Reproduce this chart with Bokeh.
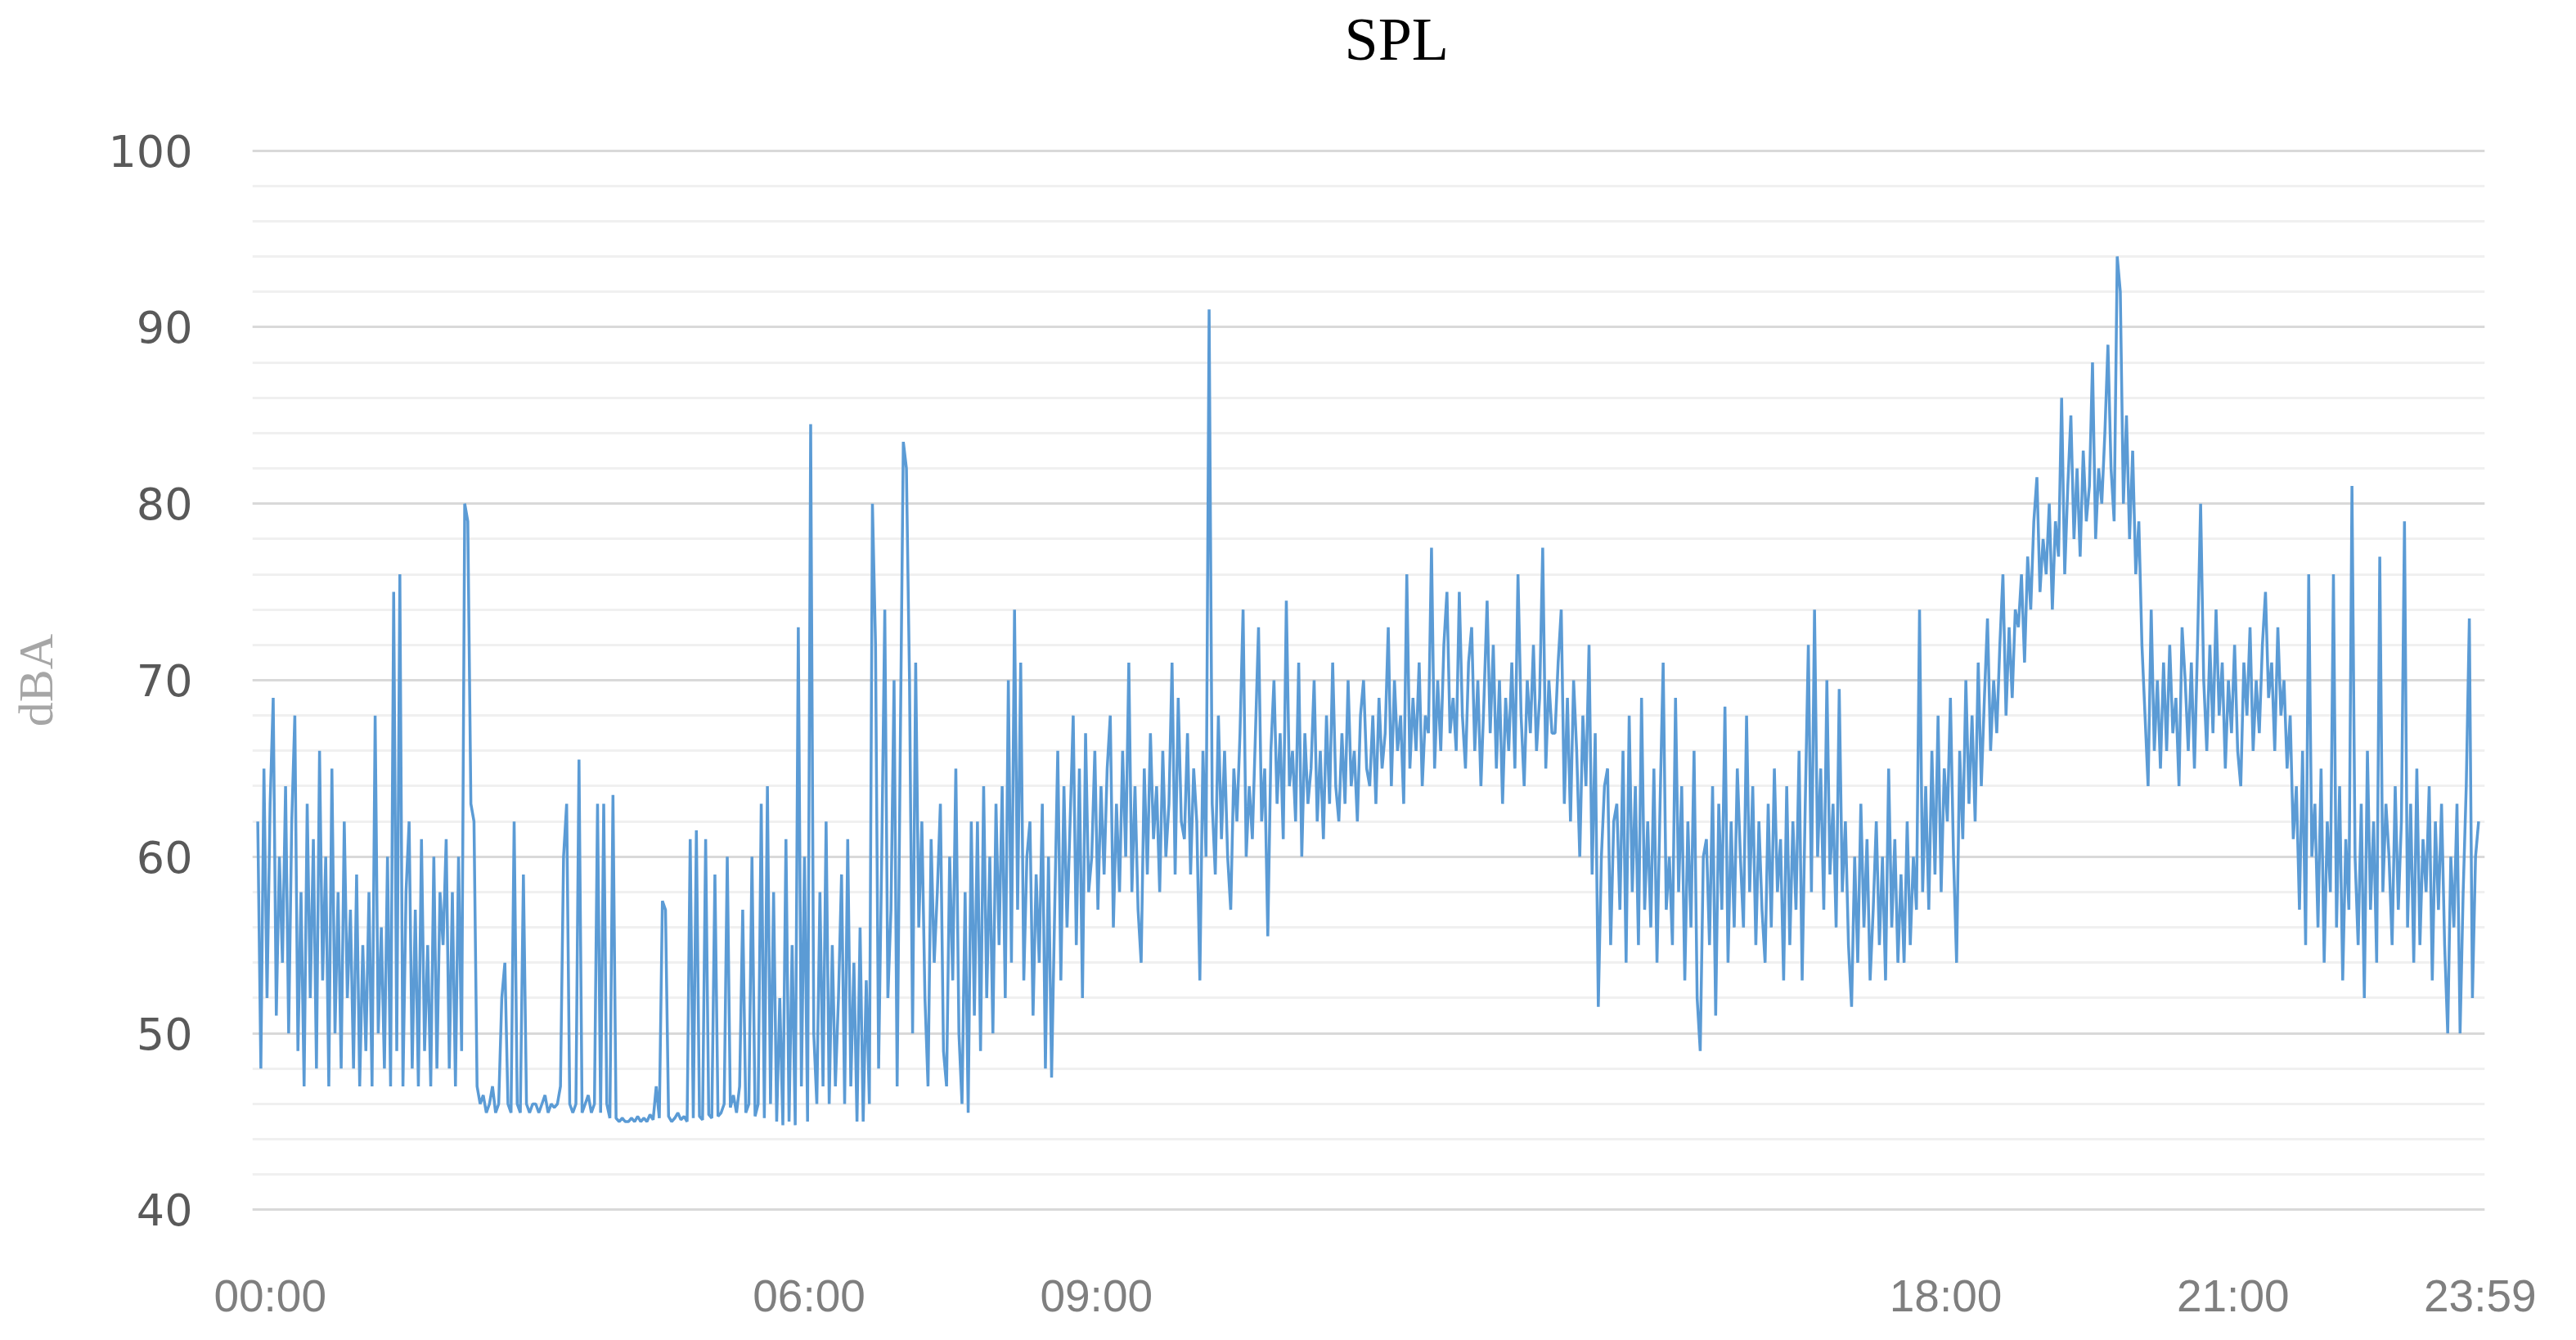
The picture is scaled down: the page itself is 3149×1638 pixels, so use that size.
from bokeh.plotting import figure
from bokeh.models import Range1d, FixedTicker, SingleIntervalTicker, Title
from bokeh.embed import file_html
from bokeh.resources import INLINE

# SPL readings (dBA), one value every 2 minutes, 30 values per hour
h00 = [62, 48, 65, 52, 63, 69, 51, 60, 54, 64, 50, 62, 68, 49, 58, 47, 63, 52, 61, 48, 66, 53, 60, 47, 65, 50, 58, 48, 62, 52]
h01 = [57, 48, 59, 47, 55, 49, 58, 47, 68, 50, 56, 48, 60, 47, 75, 49, 76, 47, 58, 62, 48, 57, 47, 61, 49, 55, 47, 60, 48, 58]
h02 = [55, 61, 48, 58, 47, 60, 49, 80, 79, 63, 62, 47, 46, 46.5, 45.5, 46, 47, 45.5, 46, 52, 54, 46, 45.5, 62, 46, 45.5, 59, 46, 45.5, 46]
h03 = [46, 45.5, 46, 46.5, 45.5, 46, 45.8, 46, 47, 60, 63, 46, 45.5, 46, 65.5, 45.5, 46, 46.5, 45.5, 46, 63, 45.5, 63, 46, 45.2, 63.5, 45.2, 45, 45.2, 45]
h04 = [45, 45.2, 45, 45.3, 45, 45.2, 45, 45.4, 45.1, 47, 45.2, 57.5, 57, 45.3, 45, 45.2, 45.5, 45.1, 45.3, 45, 61, 45.2, 61.5, 45.3, 45.1, 61, 45.4, 45.2, 59, 45.3]
h05 = [45.5, 46, 60, 45.8, 46.5, 45.5, 47, 57, 45.5, 46, 60, 45.3, 46, 63, 45.2, 64, 46, 58, 45, 52, 44.8, 61, 45, 55, 44.8, 73, 47, 60, 45, 84.5]
h06 = [50, 46, 58, 47, 62, 46, 55, 47, 52, 59, 46, 61, 47, 54, 45, 56, 45, 53, 46, 80, 72, 48, 60, 74, 52, 57, 70, 47, 66, 83.5]
h07 = [82, 70, 50, 71, 56, 62, 52, 47, 61, 54, 58, 63, 49, 47, 60, 53, 65, 50, 46, 58, 45.5, 62, 51, 62, 49, 64, 52, 60, 50, 63]
h08 = [55, 64, 52, 70, 54, 74, 57, 71, 53, 60, 62, 51, 59, 54, 63, 48, 60, 47.5, 57, 66, 53, 64, 56, 62, 68, 55, 65, 52, 67, 58]
h09 = [60, 66, 57, 64, 59, 65, 68, 56, 63, 58, 66, 60, 71, 58, 64, 57, 54, 65, 59, 67, 61, 64, 58, 66, 60, 63, 71, 59, 69, 62]
h10 = [61, 67, 59, 65, 62, 53, 66, 60, 91, 63, 59, 68, 61, 66, 60, 57, 65, 62, 67, 74, 60, 64, 61, 67, 73, 62, 65, 55.5, 66, 70]
h11 = [63, 67, 61, 74.5, 64, 66, 62, 71, 60, 67, 63, 65, 70, 62, 66, 61, 68, 63, 71, 64, 62, 67, 63, 70, 64, 66, 62, 68, 70, 65]
h12 = [64, 68, 63, 69, 65, 67, 73, 64, 70, 66, 68, 63, 76, 65, 69, 66, 71, 64, 68, 67, 77.5, 65, 70, 66, 72, 75, 67, 69, 66, 75]
h13 = [68, 65, 71, 73, 66, 70, 64, 69, 74.5, 67, 72, 65, 70, 63, 69, 66, 71, 65, 76, 68, 64, 70, 67, 72, 66, 69, 77.5, 65, 70, 67]
h14 = [67, 71, 74, 63, 69, 62, 70, 66, 60, 68, 64, 72, 59, 67, 51.5, 60, 64, 65, 55, 62, 63, 57, 66, 54, 68, 58, 64, 55, 69, 57]
h15 = [62, 56, 65, 54, 63, 71, 57, 60, 55, 69, 58, 64, 53, 62, 56, 66, 52, 49, 60, 61, 55, 64, 51, 63, 57, 68.5, 54, 62, 56, 65]
h16 = [60, 56, 68, 58, 64, 55, 62, 57, 54, 63, 56, 65, 58, 61, 53, 64, 55, 62, 57, 66, 53, 63, 72, 58, 74, 60, 65, 57, 70, 59]
h17 = [63, 56, 69.5, 58, 62, 55, 51.5, 60, 54, 63, 56, 61, 53, 57, 62, 55, 60, 53, 65, 56, 61, 54, 59, 54, 62, 55, 60, 57, 74, 58]
h18 = [64, 57, 66, 59, 68, 58, 65, 62, 69, 60, 54, 66, 61, 70, 63, 68, 62, 71, 64, 69, 73.5, 66, 70, 67, 72, 76, 68, 73, 69, 74]
h19 = [73, 76, 71, 77, 74, 79, 81.5, 75, 78, 76, 80, 74, 79, 77, 86, 76, 81, 85, 78, 82, 77, 83, 79, 81, 88, 78, 82, 80, 84, 89]
h20 = [82, 79, 94, 92, 80, 85, 78, 83, 76, 79, 72, 68, 64, 74, 66, 70, 65, 71, 66, 72, 67, 69, 64, 73, 70, 66, 71, 65, 72, 80]
h21 = [70, 66, 72, 67, 74, 68, 71, 65, 70, 67, 72, 66, 64, 71, 68, 73, 66, 70, 67, 72, 75, 69, 71, 66, 73, 68, 70, 65, 68, 61]
h22 = [64, 57, 66, 55, 76, 60, 63, 56, 65, 54, 62, 58, 76, 56, 64, 53, 61, 57, 81, 60, 55, 63, 52, 66, 57, 62, 54, 77, 58, 63]
h23 = [60, 55, 64, 57, 62, 79, 56, 63, 54, 65, 55, 61, 58, 64, 53, 62, 57, 63, 55, 50, 60, 56, 63, 50, 58, 64, 73.5, 52, 60, 62]

hours = [h00, h01, h02, h03, h04, h05, h06, h07, h08, h09, h10, h11,
         h12, h13, h14, h15, h16, h17, h18, h19, h20, h21, h22, h23]
spl = [v for h in hours for v in h]
step_minutes = 2
minutes = [i * step_minutes for i in range(len(spl))]

# category labels shown on the time axis, anchored where the original draws them
tick_labels = ["00:00", "06:00", "09:00", "18:00", "21:00", "23:59"]
tick_anchor_minutes = [8, 357, 543, 1093, 1279, 1439]

chart_title = "SPL"

p = figure(frame_width=2729, frame_height=1298,
           min_border_left=308, min_border_right=90,
           min_border_top=182, min_border_bottom=138,
           x_range=Range1d(-3.5, 1442), y_range=Range1d(39.93, 100.07),
           output_backend="svg", toolbar_location=None,
           background_fill_color="white", border_fill_color="white")
p.outline_line_color = None

p.line(minutes, spl, line_color="#5b9bd5", line_width=3.5)

# title (outermost "above" panel), with an empty spacer panel between it and the frame
p.title.text = chart_title
p.title.align = "left"
p.title.vertical_align = "top"
p.title.offset = 1335
p.title.text_font = "Liberation Serif"
p.title.text_font_size = "74px"
p.title.text_font_style = "normal"
p.title.text_color = "#000000"
p.title.standoff = 0
p.add_layout(Title(text=" ", text_font_size="10px", standoff=79), "above")

# y axis
p.yaxis.ticker = SingleIntervalTicker(interval=10, num_minor_ticks=5)
p.yaxis.axis_line_color = None
p.yaxis.major_tick_line_color = None
p.yaxis.minor_tick_line_color = None
p.yaxis.major_label_text_font = "DejaVu Sans"
p.yaxis.major_label_text_font_size = "54px"
p.yaxis.major_label_text_color = "#595959"
p.yaxis.major_label_standoff = 67
p.yaxis.axis_label = "dBA"
p.yaxis.axis_label_text_font = "Liberation Serif"
p.yaxis.axis_label_text_font_size = "60px"
p.yaxis.axis_label_text_font_style = "normal"
p.yaxis.axis_label_text_color = "#a6a6a6"
p.yaxis.axis_label_standoff = 52

# x axis
p.xaxis.ticker = FixedTicker(ticks=tick_anchor_minutes)
p.xaxis.major_label_overrides = {t: l for t, l in zip(tick_anchor_minutes, tick_labels)}
p.xaxis.axis_line_color = None
p.xaxis.major_tick_line_color = None
p.xaxis.minor_tick_line_color = None
p.xaxis.major_label_text_font = "Liberation Sans"
p.xaxis.major_label_text_font_size = "55px"
p.xaxis.major_label_text_color = "#7f7f7f"
p.xaxis.major_label_standoff = 66

# grids
p.xgrid.visible = False
p.ygrid.grid_line_color = "#d9d9d9"
p.ygrid.grid_line_width = 3
p.ygrid.minor_grid_line_color = "#f0f0f0"
p.ygrid.minor_grid_line_width = 3

open("out.html", "w").write(file_html(p, INLINE))
